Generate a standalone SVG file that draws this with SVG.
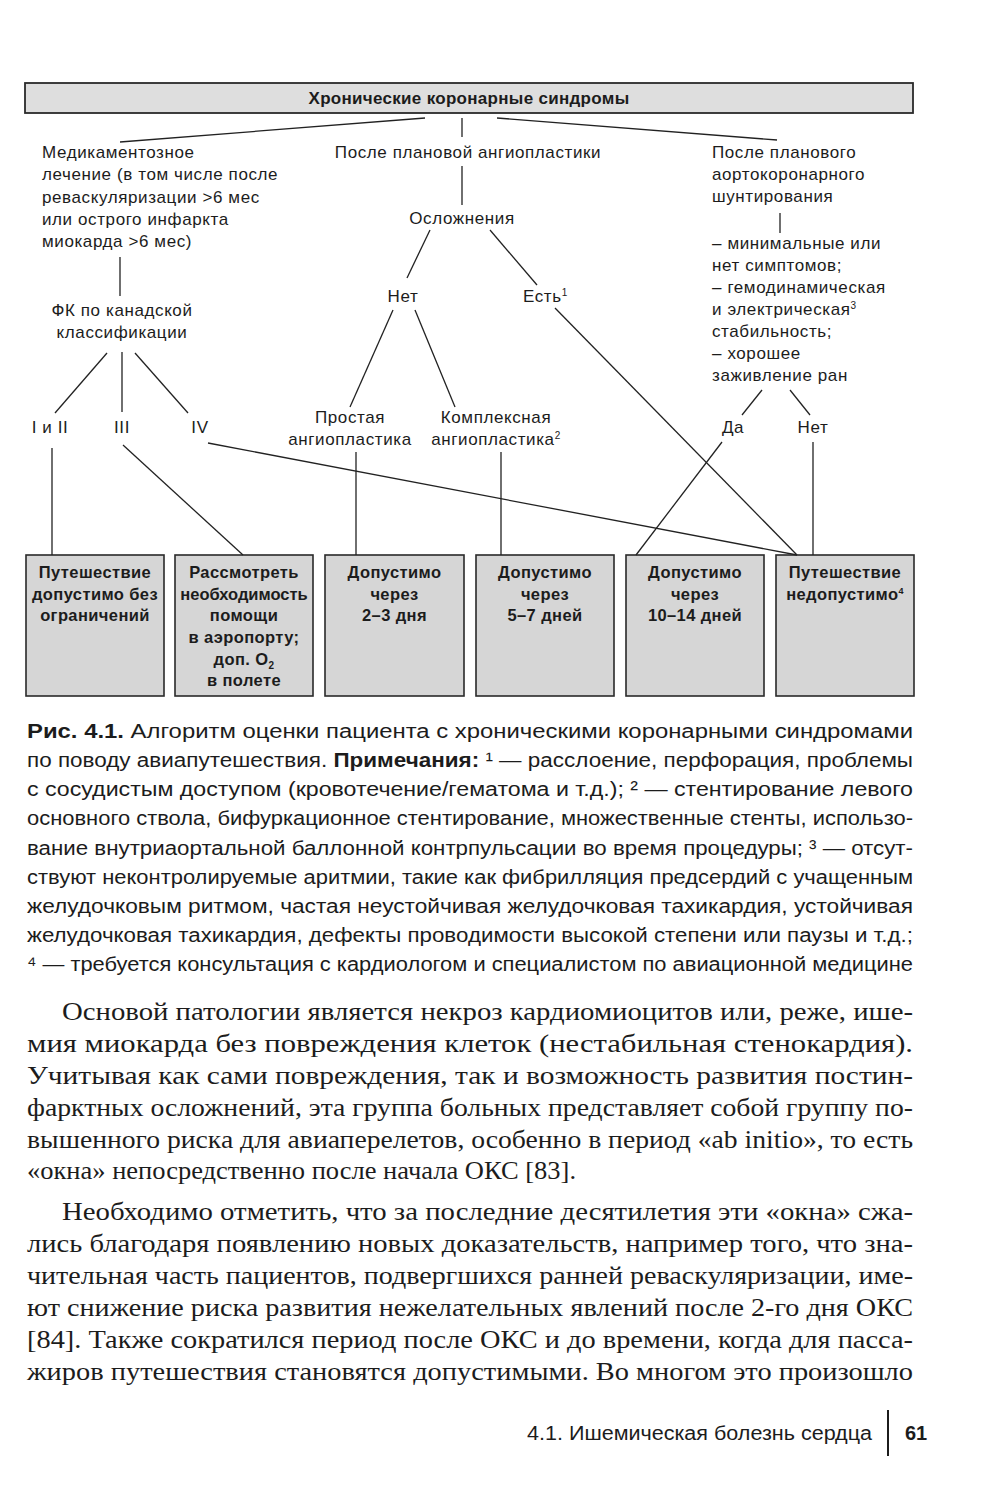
<svg xmlns="http://www.w3.org/2000/svg" width="1000" height="1510" viewBox="0 0 1000 1510">
<defs>
<style>
.t{font-family:"Liberation Sans",Arial,sans-serif;font-size:17px;letter-spacing:0.6px;fill:#1c1c1c}
.m{text-anchor:middle}
.b{font-weight:bold}
.bx{fill:#d6d6d6;stroke:#2a2a2a;stroke-width:1.6}
.bt{font-family:"Liberation Sans",Arial,sans-serif;font-size:16.5px;letter-spacing:0.4px;font-weight:bold;fill:#1c1c1c;text-anchor:middle}
.cap{font-family:"Liberation Sans",Arial,sans-serif;font-size:20px;fill:#1c1c1c}
.body{font-family:"Liberation Serif","Times New Roman",serif;font-size:25px;fill:#1c1c1c}
.cn line{stroke:#222;stroke-width:1.3}
</style>
</defs>
<rect width="1000" height="1510" fill="#ffffff"/>

<g id="root">
<rect x="25" y="83" width="888" height="30" fill="#dedede" stroke="#2a2a2a" stroke-width="1.8"/>
<text class="t b m" x="469" y="104" style="letter-spacing:0.3px">Хронические коронарные синдромы</text>
</g>

<g id="medical">
<text class="t" x="42" y="158">Медикаментозное</text>
<text class="t" x="42" y="180">лечение (в том числе после</text>
<text class="t" x="42" y="203">реваскуляризации &gt;6 мес</text>
<text class="t" x="42" y="225">или острого инфаркта</text>
<text class="t" x="42" y="247">миокарда &gt;6 мес)</text>
</g>
<g id="pci">
<text class="t m" x="468" y="158">После плановой ангиопластики</text>
</g>
<g id="cabg">
<text class="t" x="712" y="158">После планового</text>
<text class="t" x="712" y="180">аортокоронарного</text>
<text class="t" x="712" y="202">шунтирования</text>
</g>
<g id="complications">
<text class="t m" x="462" y="224">Осложнения</text>
</g>
<g id="no1"><text class="t m" x="403" y="302">Нет</text></g>
<g id="yes1"><text class="t" x="523" y="302">Есть<tspan font-size="10" dy="-6">1</tspan></text></g>
<g id="fc">
<text class="t m" x="122" y="316">ФК по канадской</text>
<text class="t m" x="122" y="338">классификации</text>
</g>
<g id="fc12"><text class="t m" x="50" y="433">I и II</text></g>
<g id="fc3"><text class="t m" x="122" y="433">III</text></g>
<g id="fc4"><text class="t m" x="200" y="433">IV</text></g>
<g id="simple">
<text class="t m" x="350" y="423">Простая</text>
<text class="t m" x="350" y="445">ангиопластика</text>
</g>
<g id="complex">
<text class="t m" x="496" y="423">Комплексная</text>
<text class="t m" x="496" y="445">ангиопластика<tspan font-size="10" dy="-6">2</tspan></text>
</g>
<g id="criteria">
<text class="t" x="712" y="249">– минимальные или</text>
<text class="t" x="712" y="271">нет симптомов;</text>
<text class="t" x="712" y="293">– гемодинамическая</text>
<text class="t" x="712" y="315">и электрическая<tspan font-size="10" dy="-6">3</tspan></text>
<text class="t" x="712" y="337">стабильность;</text>
<text class="t" x="712" y="359">– хорошее</text>
<text class="t" x="712" y="381">заживление ран</text>
</g>
<g id="da"><text class="t m" x="733" y="433">Да</text></g>
<g id="no2"><text class="t m" x="813" y="433">Нет</text></g>

<g id="box1">
<rect class="bx" x="26" y="555" width="138" height="141"/>
<text class="bt" x="95" y="578">Путешествие</text>
<text class="bt" x="95" y="600">допустимо без</text>
<text class="bt" x="95" y="621">ограничений</text>
</g>
<g id="box2">
<rect class="bx" x="175" y="555" width="138" height="141"/>
<text class="bt" x="244" y="578">Рассмотреть</text>
<text class="bt" x="244" y="600" style="letter-spacing:0px">необходимость</text>
<text class="bt" x="244" y="621">помощи</text>
<text class="bt" x="244" y="643">в аэропорту;</text>
<text class="bt" x="244" y="665">доп. O<tspan font-size="10" dy="4">2</tspan></text>
<text class="bt" x="244" y="686">в полете</text>
</g>
<g id="box3">
<rect class="bx" x="325" y="555" width="139" height="141"/>
<text class="bt" x="394.5" y="578">Допустимо</text>
<text class="bt" x="394.5" y="600">через</text>
<text class="bt" x="394.5" y="621">2–3 дня</text>
</g>
<g id="box4">
<rect class="bx" x="476" y="555" width="138" height="141"/>
<text class="bt" x="545" y="578">Допустимо</text>
<text class="bt" x="545" y="600">через</text>
<text class="bt" x="545" y="621">5–7 дней</text>
</g>
<g id="box5">
<rect class="bx" x="626" y="555" width="138" height="141"/>
<text class="bt" x="695" y="578">Допустимо</text>
<text class="bt" x="695" y="600">через</text>
<text class="bt" x="695" y="621">10–14 дней</text>
</g>
<g id="box6">
<rect class="bx" x="776" y="555" width="138" height="141"/>
<text class="bt" x="845" y="578">Путешествие</text>
<text class="bt" x="845" y="600">недопустимо<tspan font-size="9" dy="-6">4</tspan></text>
</g>

<g id="connectors" class="cn">
<line x1="425" y1="118" x2="120" y2="142"/>
<line x1="462" y1="118" x2="462" y2="137"/>
<line x1="497" y1="118" x2="777" y2="140"/>
<line x1="462" y1="166" x2="462" y2="205"/>
<line x1="780" y1="213" x2="780" y2="233"/>
<line x1="120" y1="257" x2="120" y2="296"/>
<line x1="430" y1="230" x2="407" y2="278"/>
<line x1="490" y1="230" x2="537" y2="285"/>
<line x1="393" y1="310" x2="350" y2="407"/>
<line x1="415" y1="310" x2="455" y2="407"/>
<line x1="107" y1="353" x2="55" y2="413"/>
<line x1="122" y1="352" x2="122" y2="412"/>
<line x1="135" y1="353" x2="188" y2="413"/>
<line x1="762" y1="390" x2="742" y2="415"/>
<line x1="790" y1="390" x2="810" y2="415"/>
<line x1="52" y1="448" x2="52" y2="555"/>
<line x1="123" y1="445" x2="243" y2="555"/>
<line x1="208" y1="443" x2="797" y2="555"/>
<line x1="356" y1="452" x2="356" y2="555"/>
<line x1="501" y1="452" x2="501" y2="555"/>
<line x1="555" y1="308" x2="797" y2="555"/>
<line x1="722" y1="442" x2="636" y2="555"/>
<line x1="813" y1="442" x2="813" y2="555"/>
</g>

<g id="caption">
<text class="cap" x="27" y="738" textLength="886" lengthAdjust="spacingAndGlyphs"><tspan font-weight="bold">Рис. 4.1.</tspan> Алгоритм оценки пациента с хроническими коронарными синдромами</text>
<text class="cap" x="27" y="767" textLength="886" lengthAdjust="spacingAndGlyphs">по поводу авиапутешествия. <tspan font-weight="bold">Примечания:</tspan> ¹ — расслоение, перфорация, проблемы</text>
<text class="cap" x="27" y="796" textLength="886" lengthAdjust="spacingAndGlyphs">с сосудистым доступом (кровотечение/гематома и т.д.); ² — стентирование левого</text>
<text class="cap" x="27" y="825" textLength="886" lengthAdjust="spacingAndGlyphs">основного ствола, бифуркационное стентирование, множественные стенты, использо-</text>
<text class="cap" x="27" y="855" textLength="886" lengthAdjust="spacingAndGlyphs">вание внутриаортальной баллонной контрпульсации во время процедуры; ³ — отсут-</text>
<text class="cap" x="27" y="884" textLength="886" lengthAdjust="spacingAndGlyphs">ствуют неконтролируемые аритмии, такие как фибрилляция предсердий с учащенным</text>
<text class="cap" x="27" y="913" textLength="886" lengthAdjust="spacingAndGlyphs">желудочковым ритмом, частая неустойчивая желудочковая тахикардия, устойчивая</text>
<text class="cap" x="27" y="942" textLength="886" lengthAdjust="spacingAndGlyphs">желудочковая тахикардия, дефекты проводимости высокой степени или паузы и т.д.;</text>
<text class="cap" x="27" y="971" textLength="886" lengthAdjust="spacingAndGlyphs">⁴ — требуется консультация с кардиологом и специалистом по авиационной медицине</text>
</g>

<g id="bodytext">
<text class="body" x="62" y="1020" textLength="851" lengthAdjust="spacingAndGlyphs">Основой патологии является некроз кардиомиоцитов или, реже, ише-</text>
<text class="body" x="27" y="1052" textLength="886" lengthAdjust="spacingAndGlyphs">мия миокарда без повреждения клеток (нестабильная стенокардия).</text>
<text class="body" x="27" y="1084" textLength="886" lengthAdjust="spacingAndGlyphs">Учитывая как сами повреждения, так и возможность развития постин-</text>
<text class="body" x="27" y="1116" textLength="886" lengthAdjust="spacingAndGlyphs">фарктных осложнений, эта группа больных представляет собой группу по-</text>
<text class="body" x="27" y="1148" textLength="886" lengthAdjust="spacingAndGlyphs">вышенного риска для авиаперелетов, особенно в период «ab initio», то есть</text>
<text class="body" x="27" y="1179" textLength="549" lengthAdjust="spacingAndGlyphs">«окна» непосредственно после начала ОКС [83].</text>
<text class="body" x="62" y="1220" textLength="851" lengthAdjust="spacingAndGlyphs">Необходимо отметить, что за последние десятилетия эти «окна» сжа-</text>
<text class="body" x="27" y="1252" textLength="886" lengthAdjust="spacingAndGlyphs">лись благодаря появлению новых доказательств, например того, что зна-</text>
<text class="body" x="27" y="1284" textLength="886" lengthAdjust="spacingAndGlyphs">чительная часть пациентов, подвергшихся ранней реваскуляризации, име-</text>
<text class="body" x="27" y="1316" textLength="886" lengthAdjust="spacingAndGlyphs">ют снижение риска развития нежелательных явлений после 2-го дня ОКС</text>
<text class="body" x="27" y="1348" textLength="886" lengthAdjust="spacingAndGlyphs">[84]. Также сократился период после ОКС и до времени, когда для пасса-</text>
<text class="body" x="27" y="1380" textLength="886" lengthAdjust="spacingAndGlyphs">жиров путешествия становятся допустимыми. Во многом это произошло</text>
</g>

<g id="footer">
<text class="cap" x="527" y="1440" font-size="21" textLength="345" lengthAdjust="spacingAndGlyphs">4.1. Ишемическая болезнь сердца</text>
<line x1="888" y1="1410" x2="888" y2="1456" stroke="#1c1c1c" stroke-width="2"/>
<text class="cap" x="905" y="1440" font-size="21" font-weight="bold">61</text>
</g>
</svg>
